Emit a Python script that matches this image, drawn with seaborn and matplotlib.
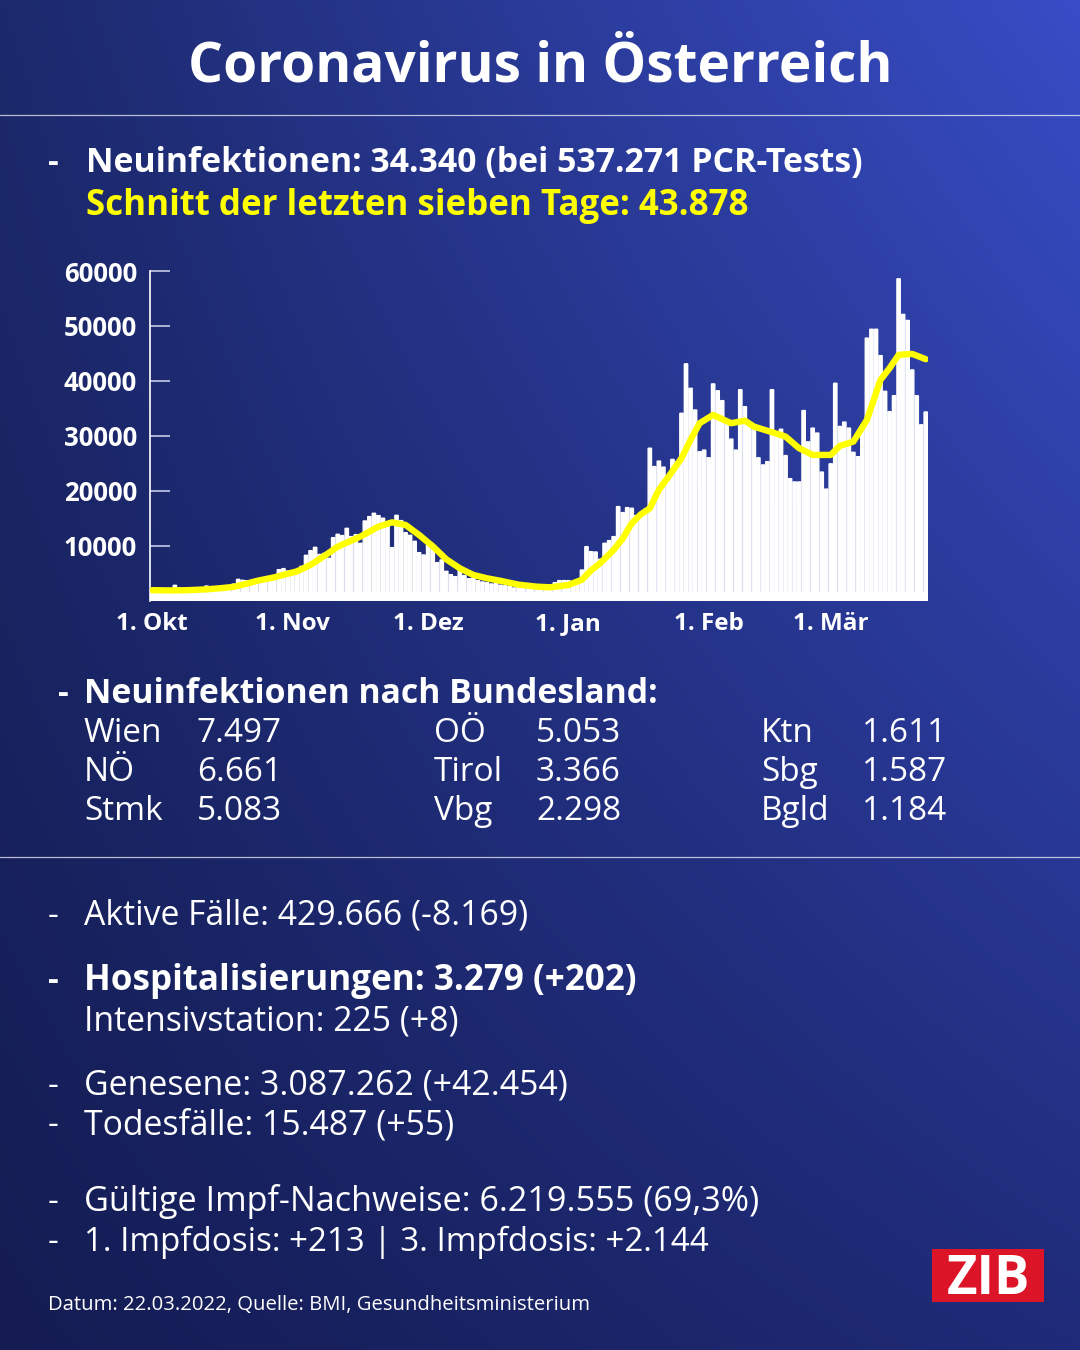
import numpy as np
import pandas as pd
import matplotlib
matplotlib.use("Agg")
import matplotlib.pyplot as plt
import seaborn as sns
from matplotlib.patches import Rectangle

sns.set_theme(style="white")
plt.rcParams['font.family'] = ['Open Sans', 'DejaVu Sans']

# ---------------- data ----------------
cases_oct = [2000, 1700, 1500, 1900, 2200, 2780, 2300, 2000, 1600, 1500,
             2000, 2300, 2660, 2400, 2300, 2000, 2200, 2600, 3000]
cases_nov_a = [3870, 3690, 3630, 3690, 3750, 3940, 4000, 4300, 4300, 5630,
               5820, 5390, 5090, 5210, 6240, 8240, 9090, 9700, 8400, 8600, 7700]
cases_nov_b = [11460, 12070, 11840, 13160, 11650, 12010, 10430, 14500, 15290, 15900,
               15470, 15000, 14200, 9640, 15530, 14560, 12370, 11890, 10800, 8730,
               8310, 10430, 9640, 6910, 7400, 5330, 4720, 4360, 5760, 4540,
               3990, 4060, 3630, 3390, 3270, 3030, 3100, 2800]
cases_dec = [2700, 2600, 2300, 2400, 2600, 2500, 2300, 2200, 2100, 2300,
             2500, 3270, 3640, 3640, 3640, 3270, 3640, 5570]
cases_jan = [9820, 8910, 8850, 7520, 10430, 10920, 11650, 17110, 16020, 16930,
             16810, 15470, 15900, 16630]
cases_feb_mar = [27740, 24400, 25400, 24300, 22600, 25700, 25300, 34100, 43100, 38650,
                 34700, 27100, 27400, 26000, 39450, 38200, 36400, 32300, 29400, 27400,
                 38400, 35300, 32300, 31100, 26000, 24700, 25300, 38400, 30200, 31200,
                 26400, 22200, 21600, 21600, 34600, 28900, 31400, 30500, 23400, 20300,
                 24900, 39560, 31700, 32500, 31400, 27000, 26200, 32000, 47780, 49400,
                 49400, 44600, 38100, 34400, 37300, 58580, 52100, 51000, 42000, 37300,
                 32000, 34340]
cases = cases_oct + cases_nov_a + cases_nov_b + cases_dec + cases_jan + cases_feb_mar
days = list(range(len(cases)))

# 7-day average line
avg_day = [0, 4, 8, 12, 15, 18, 21, 23, 27, 32, 35, 38, 41, 46, 50, 53, 56, 59, 62, 65,
           68, 71, 74, 77, 81, 85, 88, 92, 95, 97, 99, 102, 104, 106, 108, 110, 112, 114,
           117, 119, 121, 124, 128, 131, 133, 137, 140, 143, 146, 150, 152, 155, 158, 161,
           163, 165, 168, 171]
avg_val = [1900, 1850, 1900, 2050, 2250, 2500, 3100, 3570, 4240, 5330, 6500, 8100, 9820,
           11640, 13460, 14250, 13770, 11950, 9900, 7520, 5880, 4660, 4060, 3600, 2900,
           2540, 2420, 2840, 3800, 5500, 6800, 9220, 11300, 14070, 15700, 16800, 20150,
           22400, 25920, 29250, 32290, 33800, 32290, 32770, 31680, 30660, 29860, 27740,
           26520, 26520, 28160, 28940, 32900, 40180, 42310, 44730, 44910, 43950]

month_labels = ["1. Okt", "1. Nov", "1. Dez", "1. Jan", "1. Feb", "1. Mär"]
month_pos = [0, 31, 61, 92, 123, 150]
y_ticks = [10000, 20000, 30000, 40000, 50000, 60000]

title = "Coronavirus in Österreich"
head1 = "Neuinfektionen: 34.340 (bei 537.271 PCR-Tests)"
head2 = "Schnitt der letzten sieben Tage: 43.878"
bl_head = "Neuinfektionen nach Bundesland:"
bl_names = [["Wien", "NÖ", "Stmk"], ["OÖ", "Tirol", "Vbg"], ["Ktn", "Sbg", "Bgld"]]
bl_vals = [["7.497", "6.661", "5.083"], ["5.053", "3.366", "2.298"], ["1.611", "1.587", "1.184"]]
lines = [
    ("Aktive Fälle: 429.666 (-8.169)", "normal", True, 925, 24.3),
    ("Hospitalisierungen: 3.279 (+202)", "bold", True, 990, 25.2),
    ("Intensivstation: 225 (+8)", "normal", False, 1030, 24.3),
    ("Genesene: 3.087.262 (+42.454)", "normal", True, 1095, 24.4),
    ("Todesfälle: 15.487 (+55)", "normal", True, 1134, 24.3),
    ("Gültige Impf-Nachweise: 6.219.555 (69,3%)", "normal", True, 1211, 24.55),
    ("1. Impfdosis: +213 | 3. Impfdosis: +2.144", "normal", True, 1251, 23.85),
]
source = "Datum: 22.03.2022, Quelle: BMI, Gesundheitsministerium"

# ---------------- figure ----------------
W, H = 1080, 1350
fig = plt.figure(figsize=(W / 100, H / 100), dpi=100)

# gradient background
bg = fig.add_axes([0, 0, 1, 1], zorder=-10)
tl = np.array([0x1c, 0x29, 0x6c]) / 255
tr = np.array([0x38, 0x4d, 0xc6]) / 255
bl_ = np.array([0x14, 0x1c, 0x52]) / 255
br = np.array([0x1f, 0x2b, 0x78]) / 255
yy, xx = np.mgrid[0:1:200j, 0:1:200j]
top = tl[None, None, :] * (1 - xx[..., None]) + tr[None, None, :] * xx[..., None]
bot = bl_[None, None, :] * (1 - xx[..., None]) + br[None, None, :] * xx[..., None]
img = top * (1 - yy[..., None]) + bot * yy[..., None]
bg.imshow(img, aspect="auto", extent=[0, 1, 0, 1], interpolation="bilinear")
bg.set_axis_off()


def fx(x):
    return x / W


def fy(y):
    return 1 - y / H


def txt(x, y, s, size, weight="normal", color="white", ha="left"):
    fig.text(fx(x), fy(y), s, fontsize=size, fontweight=weight, color=color,
             ha=ha, va="baseline")


# title + separators
txt(540, 81, title, 39.6, "bold", ha="center")
for ysep in (115, 857):
    fig.add_artist(plt.Line2D([0, 1], [fy(ysep), fy(ysep)], transform=fig.transFigure,
                              color="white", alpha=0.7, lw=0.9))

txt(48, 172, "-", 24, "bold")
txt(86, 172, head1, 24.4, "bold")
txt(86, 215, head2, 25.1, "bold", color="#ffff00")

# ---------------- chart ----------------
ax = fig.add_axes([150 / W, 1 - 600.6 / H, 778 / W, 329.6 / H])
ax.patch.set_alpha(0)
df = pd.DataFrame({"day": days, "cases": cases})
sns.barplot(data=df, x="day", y="cases", native_scale=True, color="white",
            saturation=1, width=0.74, errorbar=None, ax=ax, zorder=2)
for p in ax.patches:
    p.set_snap(False)
    p.set_antialiased(True)
ax.axhspan(0, 1500, color="white", lw=0, zorder=3)
sns.lineplot(x=avg_day, y=avg_val, ax=ax, color="#ffff00", lw=4.6, zorder=5,
             solid_capstyle="round", solid_joinstyle="round")
ax.set_xlim(-0.5, len(cases) - 0.5)
ax.set_ylim(0, 60000)
ax.set_xlabel("")
ax.set_ylabel("")
ax.set_xticks(month_pos)
ax.set_xticklabels(month_labels)
ax.set_yticks(y_ticks)
ax.set_yticklabels([str(v) for v in y_ticks])
for s in ("top", "right", "bottom"):
    ax.spines[s].set_visible(False)
ax.spines["left"].set_color("white")
ax.spines["left"].set_linewidth(1.2)
ax.tick_params(axis="x", length=0, pad=21.5, labelsize=17.5, labelcolor="white")
ax.tick_params(axis="y", direction="in", length=14.5, width=1.2, color="#c5cae8",
               pad=9.4, labelsize=18.5, labelcolor="white", left=True)
for lab in ax.get_xticklabels():
    lab.set_fontweight("bold")
    lab.set_verticalalignment("baseline")
for lab in ax.get_yticklabels():
    lab.set_fontweight("bold")
ax.yaxis.get_major_ticks()[-1].tick1line.set_color("white")
ax.grid(False)

# ---------------- Bundesland ----------------
txt(58, 703, "-", 24, "bold")
txt(84, 703, bl_head, 24.3, "bold")
col_name_x = [84, 434, 761]
col_val_x = [197, 536, 862]
row_y = [742, 781, 820]
for c in range(3):
    for r in range(3):
        txt(col_name_x[c], row_y[r], bl_names[c][r], 24)
        txt(col_val_x[c], row_y[r], bl_vals[c][r], 24)

# ---------------- lower block ----------------
for s, w, dash, y, size in lines:
    if dash:
        txt(48, y, "-", 24, w)
    txt(84, y, s, size, w)

txt(48, 1310, source, 14.6)

# ZIB logo
fig.add_artist(Rectangle((fx(932), fy(1302)), fx(112), 53 / H, transform=fig.transFigure,
                         facecolor="#dc1428", edgecolor="none"))
txt(988, 1294, "ZIB", 38, "bold", ha="center")

fig.savefig("out.png", dpi=100)
